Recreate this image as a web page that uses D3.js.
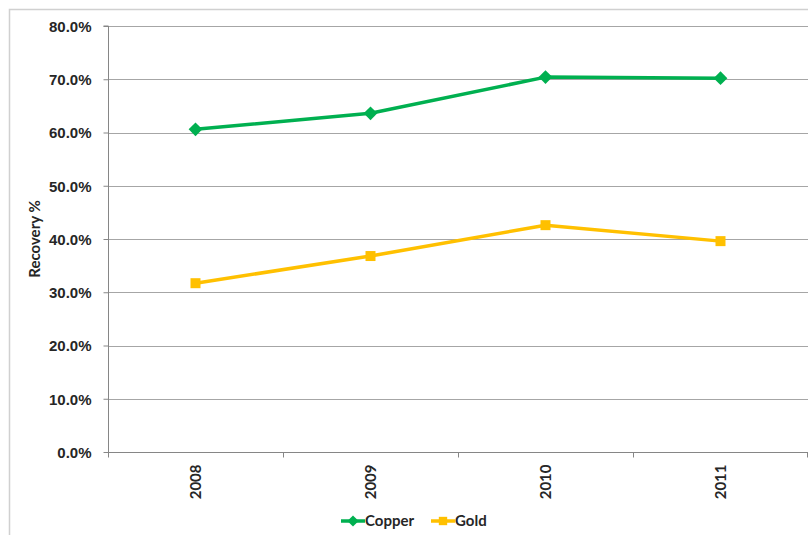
<!DOCTYPE html>
<html><head><meta charset="utf-8">
<script src="https://cdn.jsdelivr.net/npm/d3@7"></script>
<style>body{margin:0;background:#fff;}svg{display:block;font-family:Lato,"Open Sans",sans-serif;}</style>
</head><body>
<script>
const years = ["2008","2009","2010","2011"];
const copper = [0.606, 0.636, 0.704, 0.702];
const gold = [0.317, 0.368, 0.426, 0.396];
const yTicks = [0,0.1,0.2,0.3,0.4,0.5,0.6,0.7,0.8];

const W=808,H=535;
const FS="15px";
const svg=d3.select("body").append("svg").attr("width",W).attr("height",H);
svg.append("rect").attr("x",9.5).attr("y",9.5).attr("width",W+10).attr("height",H+10)
  .attr("fill","none").attr("stroke","#d0d0d0").attr("stroke-width",1.5);

const pL=108,pR=808,pT=26,pB=452;
const x=d3.scaleBand().domain(years).range([pL,pR]);
const y=d3.scaleLinear().domain([0,0.8]).range([pB,pT]);

// gridlines
svg.append("g").selectAll("line").data(yTicks.filter(d=>d>0)).join("line")
  .attr("x1",pL).attr("x2",pR).attr("y1",d=>Math.round(y(d))+0.5).attr("y2",d=>Math.round(y(d))+0.5)
  .attr("stroke","#a6a6a6").attr("stroke-width",1);

// y axis
const ya=svg.append("g").attr("transform",`translate(${pL+0.5},0)`)
  .call(d3.axisLeft(y).tickValues(yTicks).tickFormat(d3.format(".1%")).tickSize(5).tickPadding(12));
ya.select(".domain").attr("stroke","#868686").attr("d",`M-5,${pT}H0V${pB}`);
ya.selectAll(".tick line").attr("stroke","#868686");
ya.selectAll("text").attr("fill","#262626").style("font-size",FS).style("font-weight","bold").attr("dy","0.35em");

// x axis
const xa=svg.append("g").attr("transform",`translate(0,${pB+0.5})`);
xa.append("line").attr("x1",pL).attr("x2",pR).attr("stroke","#868686");
xa.selectAll(".tk").data(years.map(d=>x(d)).concat([pR-1])).join("line")
  .attr("x1",d=>Math.round(d)+0.5).attr("x2",d=>Math.round(d)+0.5).attr("y1",0).attr("y2",5).attr("stroke","#868686");
xa.selectAll("text").data(years).join("text")
  .attr("transform",d=>`translate(${x(d)+x.bandwidth()/2+5},12) rotate(-90)`)
  .attr("text-anchor","end").attr("fill","#262626").style("font-size",FS).style("font-weight","bold").text(d=>d);

// y label
svg.append("text").attr("transform",`translate(40,${(pT+pB)/2}) rotate(-90)`)
  .attr("text-anchor","middle").attr("fill","#262626").style("font-size",FS).style("font-weight","bold").text("Recovery %");

const cx=d=>x(d)+x.bandwidth()/2;
const line=d3.line().x((d,i)=>cx(years[i])).y(d=>y(d));
const series=[{name:"Copper",vals:copper,color:"#00b050",shape:d3.symbolDiamond2},
              {name:"Gold",vals:gold,color:"#ffc000",shape:d3.symbolSquare}];
series.forEach(s=>{
  svg.append("path").datum(s.vals).attr("d",line).attr("fill","none").attr("stroke",s.color).attr("stroke-width",3.5).attr("stroke-linejoin","round");
  svg.append("g").selectAll("path").data(s.vals).join("path")
    .attr("transform",(d,i)=>`translate(${cx(years[i])},${y(d)})`)
    .attr("d",d3.symbol().type(s.shape).size(s.shape===d3.symbolSquare?100:120)).attr("fill",s.color);
});

// legend
const lg=svg.append("g").attr("transform","translate(341,521)");
const items=[{s:series[0],dx:0},{s:series[1],dx:90}];
items.forEach(it=>{
  const g=lg.append("g").attr("transform",`translate(${it.dx},0)`);
  g.append("line").attr("x1",0).attr("x2",24).attr("stroke",it.s.color).attr("stroke-width",3.5);
  g.append("path").attr("transform","translate(12,0)").attr("d",d3.symbol().type(it.s.shape).size(it.s.shape===d3.symbolSquare?70:80)).attr("fill",it.s.color);
  g.append("text").attr("x",24).attr("dy","0.35em").attr("fill","#262626").style("font-size",FS).style("font-weight","bold").text(it.s.name);
});
</script>
</body></html>
